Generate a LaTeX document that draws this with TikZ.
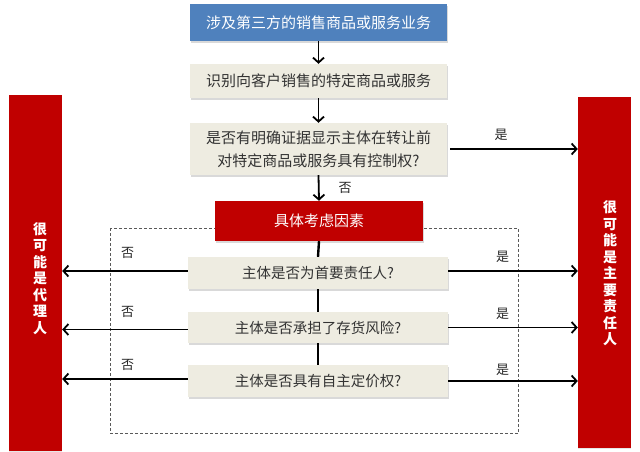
\documentclass[tikz,border=0pt]{standalone}
\usepackage{fontspec}
\setmainfont{Noto Sans CJK SC}
\usetikzlibrary{arrows.meta}
\usetikzlibrary{shadows}

\definecolor{boxblue}{HTML}{4F81BD}
\definecolor{boxgray}{HTML}{EEECE1}
\definecolor{boxred}{HTML}{C00000}
\definecolor{txtgray}{HTML}{333333}

\begin{document}
\begin{tikzpicture}[x=1pt,y=-1pt,
  box/.style={rectangle,inner sep=0pt,align=center,fill=boxgray,text=txtgray,
    font=\fontsize{15}{23}\selectfont,
    drop shadow={shadow xshift=0.6pt,shadow yshift=-2pt,opacity=0.3}},
  bar/.style={rectangle,inner sep=0pt,fill=boxred,minimum width=53pt,
    drop shadow={shadow xshift=0pt,shadow yshift=-1pt,opacity=0.2}},
  bartxt/.style={align=center,text=white,font=\fontsize{14}{16.5}\selectfont\bfseries},
  arr/.style={black,line width=1.8pt,-{Straight Barb[length=5pt,width=11pt]}},
  lbl/.style={text=black!85,font=\fontsize{13}{13}\selectfont,inner sep=1pt}
]
\useasboundingbox (0,0) rectangle (640,451);

% frame round the factors
\draw[black!65,dashed,dash pattern=on 3pt off 2pt,line width=0.6pt] (110.5,228) rectangle (518,433.5);

% flow boxes
\node[box,fill=boxblue,text=white,minimum width=257pt,minimum height=37pt] (top) at (318.5,22.5) {涉及第三方的销售商品或服务业务};
\node[box,minimum width=257pt,minimum height=34pt] (ident) at (318.5,81) {识别向客户销售的特定商品或服务};
\node[box,minimum width=257pt,minimum height=52pt] (ctrl) at (318.5,149) {是否有明确证据显示主体在转让前\\对特定商品或服务具有控制权?};
\node[box,fill=boxred,text=white,minimum width=208pt,minimum height=40pt,drop shadow={opacity=0}] (factor) at (319,221) {具体考虑因素};

\node[box,minimum width=260pt,minimum height=32pt,font=\fontsize{14.5}{16}\selectfont] (qa) at (318,273) {主体是否为首要责任人?};
\node[box,minimum width=260pt,minimum height=31pt,font=\fontsize{14.5}{16}\selectfont] (qb) at (318,327.5) {主体是否承担了存货风险?};
\node[box,minimum width=260pt,minimum height=32pt,font=\fontsize{14.5}{16}\selectfont] (qc) at (318,381) {主体是否具有自主定价权?};

% the two outcomes
\node[bar,minimum height=356pt] (agent) at (35.5,273) {};
\node[bartxt] (agenttxt) at (40,278.5) {很\\可\\能\\是\\代\\理\\人};
\node[bar,minimum height=351pt] (principal) at (604.5,272.5) {};
\node[bartxt] (principaltxt) at (610,273.5) {很\\可\\能\\是\\主\\要\\责\\任\\人};

% main line
\draw[arr] (top.south) -- (ident.north);
\draw[arr] (ident.south) -- (ctrl.north);
\draw[arr] (ctrl.south) -- (factor.north) node[lbl,midway,right=18pt] {否};
\draw[arr] ([xshift=3pt]ctrl.east) -- (ctrl.east -| principal.west) node[lbl,pos=0.4,above=7pt] {是};

\draw[black,line width=2.4pt] (factor.south) -- (qa.north);
\draw[black,line width=2.4pt] (qa.south) -- (qb.north);
\draw[black,line width=2.4pt] (qb.south) -- (qc.north);

% answers
\draw[arr] ([yshift=2pt]qa.west) -- ([yshift=2pt]qa.west -| agent.east) node[lbl,pos=0.48,above=11pt] {否};
\draw[arr] ([yshift=-2pt]qb.west) -- ([yshift=-2pt]qb.west -| agent.east) node[lbl,pos=0.48,above=10pt] {否};
\draw[arr] ([yshift=2pt]qc.west) -- ([yshift=2pt]qc.west -| agent.east) node[lbl,pos=0.48,above=7pt] {否};

\draw[arr] ([yshift=2pt]qa.east) -- ([yshift=2pt]qa.east -| principal.west) node[lbl,pos=0.42,above=7pt] {是};
\draw[arr] (qb.east) -- (qb.east -| principal.west) node[lbl,pos=0.42,above=6pt] {是};
\draw[arr] (qc.east) -- (qc.east -| principal.west) node[lbl,pos=0.42,above=4pt] {是};

\end{tikzpicture}
\end{document}
